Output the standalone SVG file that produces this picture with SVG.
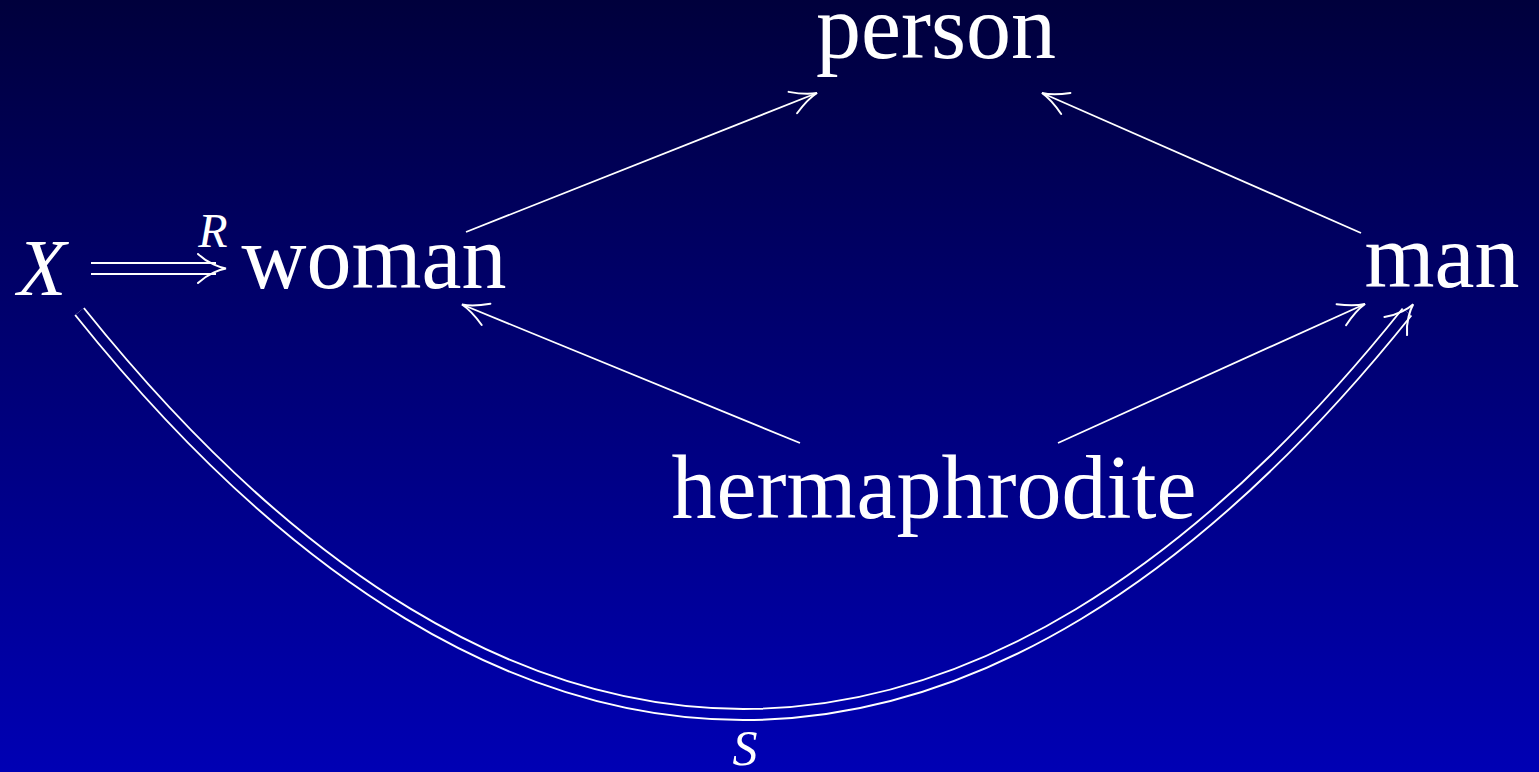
<svg xmlns="http://www.w3.org/2000/svg" width="1539" height="772" viewBox="0 0 1539 772">
  <defs>
    <linearGradient id="bg" gradientUnits="userSpaceOnUse" x1="0" y1="0" x2="0" y2="772">
      <stop offset="0" stop-color="#00003c"/>
      <stop offset="1" stop-color="#0000b4"/>
    </linearGradient>
    <marker id="to" markerUnits="userSpaceOnUse" orient="auto" refX="0" refY="0" markerWidth="60" markerHeight="60" overflow="visible">
      <path d="M -26,-11.5 C -14,-4 -5,-1 0,0 C -5,1 -14,4 -26,11.5" fill="none" stroke="#ffffff" stroke-width="2" stroke-linecap="round"/>
    </marker>
    <marker id="implies" markerUnits="userSpaceOnUse" orient="auto" refX="0" refY="0" markerWidth="60" markerHeight="60" overflow="visible">
      <path d="M -18,-14.5 C -8,-5 4,-1 10,0 C 4,1 -8,5 -18,14.5" fill="none" stroke="#ffffff" stroke-width="2" stroke-linecap="round"/>
    </marker>
  </defs>
  <style>
    .lbl { font-family: "Liberation Serif", "Times New Roman", serif; fill: #ffffff; }
    .node { font-size: 90px; text-anchor: middle; }
    .math { font-style: italic; text-anchor: middle; }
    .single { fill: none; stroke: #ffffff; stroke-width: 1.8; marker-end: url(#to); }
    .dblout { fill: none; stroke: #ffffff; stroke-width: 13; }
    .dblin { fill: none; stroke: url(#bg); stroke-width: 9.2; marker-end: url(#implies); }
  </style>
  <rect x="0" y="0" width="1539" height="772" fill="url(#bg)"/>

  <g id="connectors">
    <path class="single" d="M 466,232 L 817,93"/>
    <path class="single" d="M 1361,233 L 1042,93"/>
    <path class="single" d="M 800,443 L 462,304.5"/>
    <path class="single" d="M 1058,443 L 1365,304"/>
    <path class="dblout" d="M 91,268.5 L 216,268.5"/>
    <path class="dblin" d="M 91,268.5 L 216,268.5"/>
    <path class="dblout" d="M 79.5,311.5 C 509.5,848.5 977,849 1407,312"/>
    <path class="dblin" d="M 79.5,311.5 C 509.5,848.5 977,849 1407,312"/>
    <text class="lbl math" x="213" y="247" font-size="48">R</text>
    <text class="lbl math" x="745" y="765" font-size="50">S</text>
  </g>

  <g id="node-X"><text class="lbl math" x="42" y="295" font-size="80">X</text></g>
  <g id="node-woman"><text class="lbl node" x="374" y="288">woman</text></g>
  <g id="node-person"><text class="lbl node" x="936" y="58">person</text></g>
  <g id="node-man"><text class="lbl node" x="1442" y="287">man</text></g>
  <g id="node-hermaphrodite"><text class="lbl node" x="934" y="518">hermaphrodite</text></g>
</svg>
